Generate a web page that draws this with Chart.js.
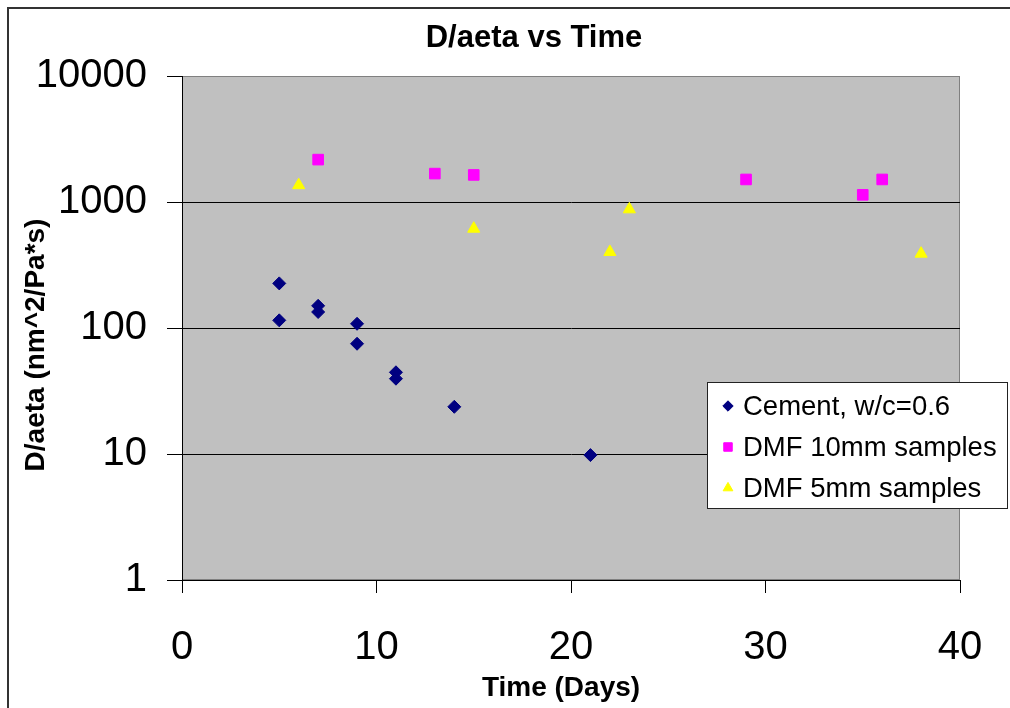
<!DOCTYPE html>
<html lang="en">
<head>
    <meta charset="UTF-8">
    <title>D/aeta vs Time</title>
    <style>
        html, body {
            margin: 0;
            padding: 0;
            width: 1010px;
            height: 708px;
            overflow: hidden;
            background: #fff;
        }

        #frame {
            position: absolute;
            left: 7px;
            top: 7px;
            width: 1100px;
            height: 800px;
            border: 2px solid #333;
        }

        #chart-box {
            position: absolute;
            left: 0;
            top: 0;
            width: 1010px;
            height: 708px;
        }
    </style>
</head>
<body>
    <div id="frame"></div>
    <div id="chart-box">
        <canvas id="aeta-chart" width="1010" height="708"></canvas>
    </div>

    <script src="https://cdn.jsdelivr.net/npm/chart.js"></script>
    <script>
        // values
        const cementDays = [5, 5, 7, 7, 9, 9, 11, 11, 14, 21];
        const cementValues = [226, 115, 150, 134, 108, 75, 44.5, 39.6, 23.7, 9.8];

        const dmf10Days = [7, 13, 15, 29, 35, 36];
        const dmf10Values = [2170, 1680, 1640, 1510, 1140, 1510];

        const dmf5Days = [6, 15, 22, 23, 38];
        const dmf5Values = [1360, 614, 401, 875, 389];

        const yTicks = [1, 10, 100, 1000, 10000];
        const xTicks = [0, 10, 20, 30, 40];

        const chartTitle = 'D/aeta vs Time';
        const xTitle = 'Time (Days)';
        const yTitle = 'D/aeta (nm^2/Pa*s)';

        const FONT = '"Liberation Sans", Arial, sans-serif';

        function toPoints(days, values) {
            return days.map((d, i) => ({ x: d, y: values[i] }));
        }

        // grey plot background with its thin border
        const plotBackground = {
            id: 'plotBackground',
            beforeDraw(chart) {
                const { ctx, chartArea: a } = chart;
                ctx.save();
                ctx.fillStyle = '#C0C0C0';
                ctx.fillRect(a.left, a.top, a.right - a.left, a.bottom - a.top);
                ctx.strokeStyle = '#808080';
                ctx.lineWidth = 1;
                ctx.strokeRect(a.left + 0.5, a.top + 0.5, a.right - a.left - 1, a.bottom - a.top - 1);
                ctx.restore();
            }
        };

        // titles are placed where excel put them, a bit off the axis centres
        const titles = {
            id: 'titles',
            afterDraw(chart) {
                const ctx = chart.ctx;
                ctx.save();
                ctx.fillStyle = '#000';
                ctx.textAlign = 'center';
                ctx.textBaseline = 'middle';
                ctx.font = 'bold 31px ' + FONT;
                ctx.fillText(chartTitle, 534, 38);

                ctx.font = 'bold 28px ' + FONT;
                ctx.fillText(xTitle, 561, 688);

                ctx.translate(36, 345);
                ctx.rotate(-Math.PI / 2);
                ctx.fillText(yTitle, 0, 0);
                ctx.restore();
            }
        };

        // excel style legend box sitting over the lower right corner
        const boxLegend = {
            id: 'boxLegend',
            afterDraw(chart) {
                const ctx = chart.ctx;
                const left = 707, top = 382, width = 300, height = 126;
                ctx.save();
                ctx.fillStyle = '#fff';
                ctx.fillRect(left, top, width, height);
                ctx.strokeStyle = '#222';
                ctx.lineWidth = 1;
                ctx.strokeRect(left + 0.5, top + 0.5, width, height);

                ctx.font = '27.5px ' + FONT;
                ctx.textBaseline = 'middle';
                chart.data.datasets.forEach((ds, i) => {
                    const y = 406 + i * 41;
                    ctx.fillStyle = ds.backgroundColor;
                    ctx.strokeStyle = ds.borderColor;
                    Chart.helpers.drawPoint(ctx, {
                        pointStyle: ds.pointStyle,
                        radius: ds.pointRadius * 0.8,
                        borderWidth: 1,
                        rotation: 0
                    }, 728, y);
                    ctx.fillStyle = '#000';
                    ctx.fillText(ds.label, 743, y + 1);
                });
                ctx.restore();
            }
        };

        const chartCtx = document.getElementById('aeta-chart').getContext('2d');

        const aetaChart = new Chart(chartCtx, {
            type: 'scatter',
            data: {
                datasets: [
                    {
                        label: 'Cement, w/c=0.6',
                        data: toPoints(cementDays, cementValues),
                        pointStyle: 'rectRot',
                        pointRadius: 6.5,
                        backgroundColor: '#000080',
                        borderColor: '#000080',
                        borderWidth: 1
                    },
                    {
                        label: 'DMF 10mm samples',
                        data: toPoints(dmf10Days, dmf10Values),
                        pointStyle: 'rect',
                        pointRadius: 7.5,
                        backgroundColor: '#FF00FF',
                        borderColor: '#FF00FF',
                        borderWidth: 1
                    },
                    {
                        label: 'DMF 5mm samples',
                        data: toPoints(dmf5Days, dmf5Values),
                        pointStyle: 'triangle',
                        pointRadius: 7,
                        backgroundColor: '#FFFF00',
                        borderColor: '#FFFF00',
                        borderWidth: 1
                    }
                ]
            },
            options: {
                responsive: false,
                animation: false,
                layout: {
                    padding: { left: 0, right: 50, top: 76, bottom: 0 }
                },
                plugins: {
                    legend: { display: false },
                    tooltip: { enabled: false },
                    title: { display: false }
                },
                scales: {
                    x: {
                        type: 'linear',
                        min: 0,
                        max: 40,
                        afterBuildTicks(scale) {
                            scale.ticks = xTicks.map(v => ({ value: v }));
                        },
                        afterFit(scale) {
                            scale.height = 128;
                            scale.paddingRight = 50;
                        },
                        ticks: {
                            color: '#000',
                            font: { family: FONT, size: 40 },
                            padding: 31,
                            maxRotation: 0
                        },
                        grid: {
                            drawOnChartArea: false,
                            drawTicks: true,
                            tickLength: 13,
                            tickColor: '#000'
                        },
                        border: { color: '#000', width: 1 },
                        title: { display: false }
                    },
                    y: {
                        type: 'logarithmic',
                        min: 1,
                        max: 10000,
                        afterBuildTicks(scale) {
                            scale.ticks = yTicks.map(v => ({ value: v }));
                        },
                        afterFit(scale) {
                            scale.width = 182;
                        },
                        ticks: {
                            color: '#000',
                            font: { family: FONT, size: 40 },
                            padding: 20,
                            callback: v => String(v)
                        },
                        grid: {
                            color: c => (c.tick && c.tick.value === 10000) ? '#808080' : '#000',
                            tickColor: '#000',
                            tickLength: 15,
                            lineWidth: 1
                        },
                        border: { color: '#000', width: 1 },
                        title: { display: false }
                    }
                }
            },
            plugins: [plotBackground, titles, boxLegend]
        });
    </script>
</body>
</html>
